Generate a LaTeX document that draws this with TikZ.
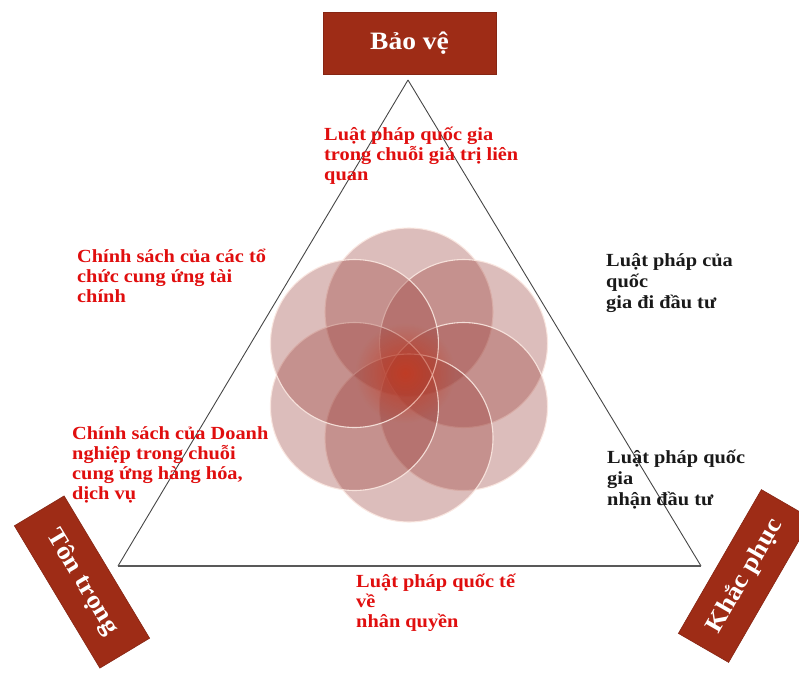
\documentclass[tikz,border=0pt]{standalone}
\usepackage{fontspec}
\setmainfont{Liberation Serif}[FakeStretch=1.1]
\usetikzlibrary{calc,fadings}
\tikzfading[name=coreglow,inner color=transparent!0,outer color=transparent!100]
\definecolor{boxred}{RGB}{158,44,22}
\definecolor{txtred}{RGB}{224,14,14}
\definecolor{txtblack}{RGB}{25,25,25}
\definecolor{petal}{RGB}{150,55,50}
\definecolor{petalcore}{RGB}{205,55,25}
\definecolor{petaledge}{RGB}{250,232,225}
\definecolor{edgegray}{RGB}{70,70,70}
\begin{document}
\begin{tikzpicture}[x=1pt,y=-1pt,
  blocktext/.style={anchor=base west,align=left,inner sep=0pt,font=\bfseries\fontsize{18.5}{19.8}\selectfont},
  redtext/.style={blocktext,text=txtred},
  blacktext/.style={blocktext,text=txtblack},
  cornerbox/.style={fill=boxred,draw=boxred!85!black,line width=0.6pt,text=white,inner sep=0pt},
  petalfill/.style={fill=petal,fill opacity=0.33,draw=petaledge,draw opacity=0.9,line width=1.1pt},
  triedge/.style={draw=edgegray,line width=0.9pt}]
\useasboundingbox (0,0) rectangle (799,675);
% triangle corners
\coordinate (A) at (408,80);
\coordinate (B) at (118,566);
\coordinate (C) at (701,566);
\draw[triedge] (A) -- (B);
\draw[triedge] (A) -- (C);
\draw[triedge,draw=gray!70!black,line width=1.3pt] (B) -- (C);
% flower of circles
\coordinate (F) at (409,375);
\foreach \a in {-90,-30,30,90,150,-150}
  \path[petalfill] ($(F)+(\a:63)$) circle (84);
\fill[petalcore,fill opacity=0.7,path fading=coreglow] ($(F)+(-4,-2)$) circle (50);
% boxes
\node[cornerbox,minimum width=173pt,minimum height=62pt,font=\bfseries\fontsize{25}{25}\selectfont] (protect) at (409.5,43) {Bảo vệ};
\node[cornerbox,minimum width=166pt,minimum height=58pt,rotate=-59,font=\bfseries\fontsize{25}{25}\selectfont] (respect) at (82,582) {Tôn trọng};
\node[cornerbox,minimum width=166pt,minimum height=58pt,rotate=60,font=\bfseries\fontsize{25}{25}\selectfont] (remedy) at (745,576) {Khắc phục};
% texts (anchored at the baseline of the last line)
\node[redtext] (t1) at (324,180) {Luật pháp quốc gia\\trong chuỗi giá trị liên\\quan};
\node[redtext] (t2) at (77,302) {Chính sách của các tổ\\chức cung ứng tài\\chính};
\node[redtext] (t3) at (72,499) {Chính sách của Doanh\\nghiệp trong chuỗi\\cung ứng hàng hóa,\\dịch vụ};
\node[blacktext,font=\bfseries\fontsize{18.5}{20.6}\selectfont] (t4) at (606,308) {Luật pháp của\\quốc\\gia đi đầu tư};
\node[blacktext,font=\bfseries\fontsize{18.5}{21}\selectfont] (t5) at (607,505) {Luật pháp quốc\\gia\\nhận đầu tư};
\node[redtext] (t6) at (356,627) {Luật pháp quốc tế\\về\\nhân quyền};
\end{tikzpicture}
\end{document}
